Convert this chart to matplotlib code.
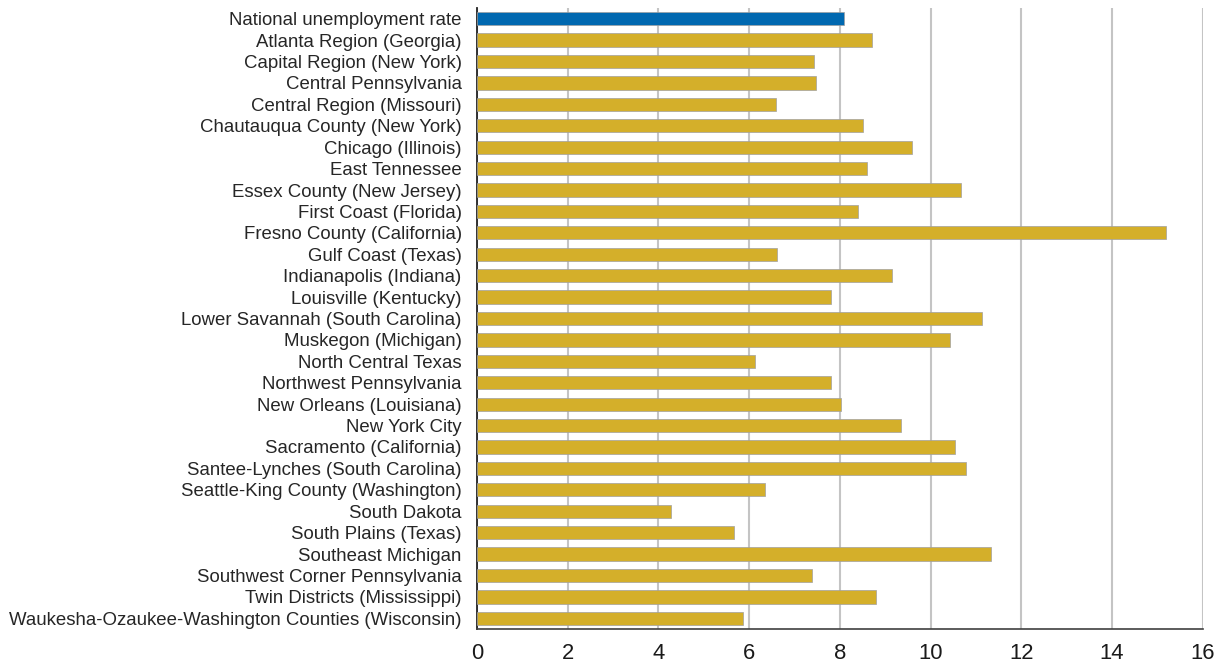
import matplotlib
matplotlib.use("Agg")
import matplotlib.pyplot as plt

categories = [
    "National unemployment rate",
    "Atlanta Region (Georgia)",
    "Capital Region (New York)",
    "Central Pennsylvania",
    "Central Region (Missouri)",
    "Chautauqua County (New York)",
    "Chicago (Illinois)",
    "East Tennessee",
    "Essex County (New Jersey)",
    "First Coast (Florida)",
    "Fresno County (California)",
    "Gulf Coast (Texas)",
    "Indianapolis (Indiana)",
    "Louisville (Kentucky)",
    "Lower Savannah (South Carolina)",
    "Muskegon (Michigan)",
    "North Central Texas",
    "Northwest Pennsylvania",
    "New Orleans (Louisiana)",
    "New York City",
    "Sacramento (California)",
    "Santee-Lynches (South Carolina)",
    "Seattle-King County (Washington)",
    "South Dakota",
    "South Plains (Texas)",
    "Southeast Michigan",
    "Southwest Corner Pennsylvania",
    "Twin Districts (Mississippi)",
    "Waukesha-Ozaukee-Washington Counties (Wisconsin)",
]
values = [8.1, 8.7, 7.44, 7.47, 6.59, 8.51, 9.6, 8.59, 10.68, 8.39, 15.18,
          6.61, 9.15, 7.8, 11.13, 10.42, 6.14, 7.8, 8.02, 9.35, 10.54, 10.79,
          6.36, 4.27, 5.66, 11.33, 7.38, 8.79, 5.86]
xticks = [0, 2, 4, 6, 8, 10, 12, 14, 16]

blue = "#0068B0"
gold = "#D4AF2A"
colors = [blue] + [gold] * (len(values) - 1)

plt.rcParams['font.family'] = ['Liberation Sans', 'DejaVu Sans']
fig = plt.figure(figsize=(12.25, 6.71), dpi=100)
ax = fig.add_axes([0.3894, 0.0626, 0.5924, 0.9255])

y = list(range(len(categories)))
ax.barh(y, values, height=0.62, color=colors, edgecolor="#a0a0a0", linewidth=0.5, zorder=3)
ax.set_ylim(len(categories) - 0.5, -0.5)
ax.set_xlim(0, 16)
ax.set_xticks(xticks)
ax.set_xticklabels([str(t) for t in xticks], fontsize=15.8, color="#1a1a1a")
ax.set_yticks(y)
ax.set_yticklabels(categories, fontsize=13.4, color="#262626")
ax.tick_params(axis='y', length=0, pad=11)
ax.tick_params(axis='x', length=0, pad=10)
ax.xaxis.grid(True, color="#C4C4C4", linewidth=1.5, zorder=0)
ax.set_axisbelow(True)
for s in ["top", "right"]:
    ax.spines[s].set_visible(False)
ax.spines["left"].set_color("#222222")
ax.spines["left"].set_linewidth(1.3)
ax.spines["bottom"].set_color("#404040")
ax.spines["bottom"].set_linewidth(1.2)

fig.savefig("out.png", dpi=100)
